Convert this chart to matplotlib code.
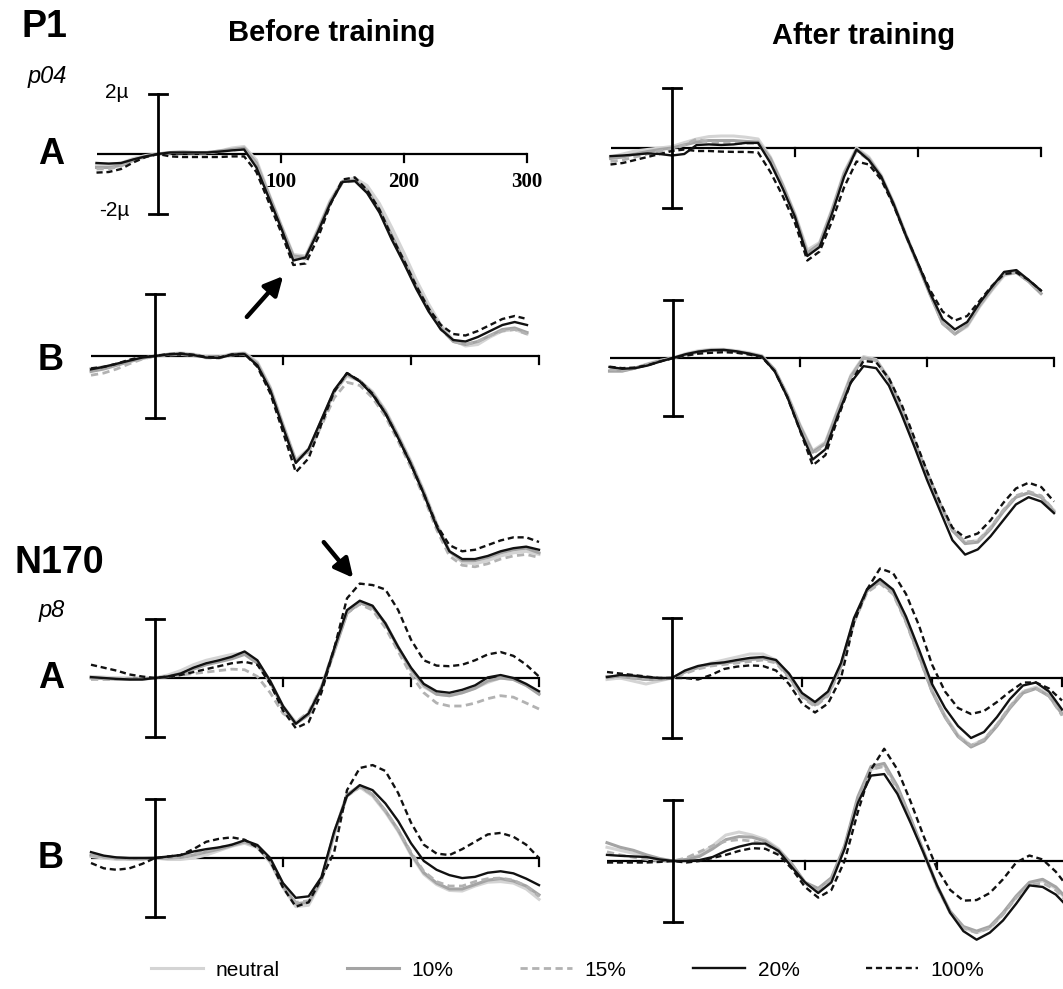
import numpy as np
import matplotlib
matplotlib.use('Agg')
import matplotlib.pyplot as plt
from matplotlib.patches import FancyArrowPatch

# ERP grand averages, P1 (p04) and N170 (p8), before / after training
W, H = 1063, 989
plt.rcParams['font.family'] = ['Liberation Sans', 'DejaVu Sans']

t = np.arange(-50, 301, 10)   # ms
conds = ['neutral', '10%', '15%', '20%', '100%']

# amplitudes in µV, one row per condition (neutral, 10%, 15%, 20%, 100%)
pre_p1_a = [
    [-0.35,-0.35,-0.3,-0.15,-0.05,0,0.05,0.08,0.05,0.05,0.1,0.2,0.25,-0.2,-1.3,-2.35,-3.35,-3.4,-2.5,-1.55,-0.9,-0.8,-1.05,-1.65,-2.45,-3.3,-4.2,-5.0,-5.7,-6.2,-6.4,-6.35,-6.1,-5.9,-5.85,-6.0],
    [-0.45,-0.45,-0.38,-0.2,-0.08,0,0.05,0.06,0.05,0.05,0.1,0.15,0.2,-0.3,-1.35,-2.4,-3.4,-3.45,-2.55,-1.6,-0.92,-0.88,-1.2,-1.85,-2.7,-3.55,-4.4,-5.15,-5.8,-6.25,-6.35,-6.25,-6.05,-5.85,-5.8,-5.95],
    [-0.5,-0.5,-0.4,-0.22,-0.1,0,0.03,0.04,0.03,0.03,0.08,0.12,0.18,-0.35,-1.4,-2.4,-3.45,-3.5,-2.6,-1.65,-0.95,-0.9,-1.25,-1.9,-2.8,-3.6,-4.45,-5.2,-5.85,-6.25,-6.35,-6.25,-6.05,-5.9,-5.85,-6.0],
    [-0.3,-0.32,-0.3,-0.18,-0.08,0,0.05,0.05,0.05,0.05,0.08,0.12,0.15,-0.45,-1.45,-2.45,-3.55,-3.45,-2.6,-1.65,-0.93,-0.9,-1.3,-1.95,-2.85,-3.65,-4.5,-5.25,-5.85,-6.2,-6.25,-6.1,-5.9,-5.7,-5.6,-5.7],
    [-0.62,-0.6,-0.5,-0.28,-0.1,0,-0.08,-0.1,-0.1,-0.1,-0.1,-0.08,-0.08,-0.6,-1.6,-2.6,-3.7,-3.65,-2.8,-1.7,-0.85,-0.78,-1.2,-1.85,-2.75,-3.55,-4.4,-5.15,-5.7,-6.0,-6.05,-5.9,-5.7,-5.5,-5.4,-5.5],
]
pre_p1_b = [
    [-0.4,-0.35,-0.28,-0.18,-0.08,0,0.06,0.1,0.06,-0.02,-0.03,0.07,0.1,-0.2,-1.0,-2.2,-3.35,-3.0,-2.1,-1.15,-0.65,-0.8,-1.15,-1.75,-2.55,-3.4,-4.35,-5.4,-6.3,-6.65,-6.7,-6.6,-6.45,-6.35,-6.3,-6.4],
    [-0.5,-0.42,-0.3,-0.18,-0.07,0,0.05,0.07,0.03,-0.04,-0.05,0.05,0.08,-0.25,-1.05,-2.25,-3.4,-3.05,-2.1,-1.15,-0.6,-0.8,-1.2,-1.8,-2.6,-3.45,-4.4,-5.45,-6.3,-6.6,-6.6,-6.5,-6.35,-6.25,-6.2,-6.35],
    [-0.62,-0.55,-0.42,-0.25,-0.1,0,0.03,0.05,0.01,-0.06,-0.07,0.03,0.05,-0.28,-1.05,-2.25,-3.4,-3.1,-2.25,-1.35,-0.85,-0.95,-1.35,-1.95,-2.75,-3.6,-4.55,-5.6,-6.45,-6.75,-6.8,-6.7,-6.55,-6.45,-6.4,-6.5],
    [-0.43,-0.35,-0.25,-0.15,-0.05,0,0.05,0.07,0.03,-0.05,-0.06,0.04,0.06,-0.3,-1.1,-2.3,-3.45,-3.0,-2.05,-1.1,-0.55,-0.82,-1.25,-1.85,-2.65,-3.5,-4.45,-5.5,-6.3,-6.55,-6.55,-6.45,-6.3,-6.2,-6.15,-6.25],
    [-0.4,-0.35,-0.25,-0.12,-0.03,0,0.06,0.08,0.04,-0.03,-0.05,0.05,0.07,-0.35,-1.2,-2.45,-3.75,-3.3,-2.2,-1.15,-0.55,-0.8,-1.22,-1.85,-2.65,-3.5,-4.45,-5.45,-6.1,-6.3,-6.25,-6.1,-5.95,-5.85,-5.85,-6.0],
]
pre_n170_a = [
    [0.05,0.03,0.0,-0.03,-0.03,0,0.1,0.25,0.45,0.6,0.7,0.8,0.85,0.55,-0.1,-0.95,-1.5,-1.2,-0.3,0.95,2.2,2.55,2.4,1.85,1.0,0.25,-0.3,-0.55,-0.6,-0.5,-0.35,-0.15,0.0,-0.05,-0.25,-0.5],
    [0.0,-0.02,-0.04,-0.05,-0.04,0,0.05,0.15,0.3,0.45,0.55,0.65,0.8,0.5,-0.15,-1.0,-1.55,-1.25,-0.35,0.9,2.2,2.55,2.4,1.85,1.05,0.3,-0.25,-0.55,-0.6,-0.5,-0.35,-0.1,0.0,-0.05,-0.25,-0.55],
    [-0.05,-0.05,-0.05,-0.02,0.0,0,0.05,0.1,0.15,0.2,0.25,0.3,0.28,0.05,-0.5,-1.2,-1.5,-1.15,-0.3,1.0,2.2,2.5,2.3,1.7,0.9,0.1,-0.5,-0.85,-0.95,-0.95,-0.85,-0.7,-0.6,-0.65,-0.85,-1.05],
    [0.03,0.0,-0.03,-0.05,-0.05,0,0.05,0.15,0.35,0.5,0.6,0.72,0.9,0.6,-0.1,-0.95,-1.55,-1.2,-0.35,1.0,2.3,2.62,2.45,1.85,1.05,0.35,-0.2,-0.45,-0.5,-0.4,-0.25,0.02,0.1,0.0,-0.2,-0.45],
    [0.45,0.35,0.25,0.12,0.05,0,0.05,0.1,0.2,0.3,0.4,0.5,0.55,0.45,-0.2,-1.1,-1.7,-1.5,-0.5,1.0,2.7,3.2,3.15,3.0,2.3,1.3,0.6,0.42,0.4,0.45,0.6,0.8,0.88,0.75,0.45,0.05],
]
pre_n170_b = [
    [0.05,0.0,-0.05,-0.05,-0.05,0,-0.05,-0.05,0.0,0.1,0.25,0.4,0.5,0.35,-0.15,-1.0,-1.65,-1.6,-0.8,0.8,2.1,2.4,2.1,1.55,0.9,0.1,-0.55,-0.9,-1.1,-1.12,-0.95,-0.82,-0.8,-0.85,-1.05,-1.4],
    [0.1,0.05,0.0,-0.02,-0.02,0,0.0,0.02,0.1,0.2,0.3,0.42,0.55,0.4,-0.1,-0.95,-1.55,-1.5,-0.75,0.85,2.15,2.45,2.15,1.6,0.95,0.15,-0.5,-0.85,-1.05,-1.05,-0.9,-0.75,-0.7,-0.78,-0.95,-1.25],
    [0.08,0.02,-0.02,-0.03,-0.03,0,0.0,0.02,0.12,0.25,0.35,0.45,0.55,0.4,-0.1,-0.95,-1.5,-1.45,-0.75,0.8,2.1,2.4,2.15,1.6,0.95,0.2,-0.45,-0.8,-0.95,-0.95,-0.8,-0.7,-0.68,-0.75,-0.95,-1.3],
    [0.2,0.08,0.02,0.0,0.0,0,0.05,0.1,0.22,0.3,0.36,0.45,0.6,0.44,0.0,-0.85,-1.35,-1.3,-0.65,0.9,2.1,2.47,2.3,1.85,1.25,0.5,-0.1,-0.4,-0.58,-0.68,-0.64,-0.5,-0.45,-0.52,-0.7,-0.92],
    [-0.17,-0.35,-0.4,-0.35,-0.2,0,0.05,0.1,0.3,0.55,0.65,0.7,0.62,0.35,-0.1,-1.0,-1.65,-1.5,-0.7,0.2,2.3,3.05,3.15,2.95,2.2,1.2,0.45,0.15,0.1,0.3,0.55,0.8,0.85,0.72,0.45,0.0],
]
post_p1_a = [
    [-0.3,-0.2,-0.1,-0.05,0.0,0.05,0.18,0.3,0.38,0.4,0.4,0.36,0.3,-0.3,-1.2,-2.2,-3.4,-3.15,-2.05,-0.8,0.0,-0.3,-0.9,-1.8,-2.85,-3.85,-4.85,-5.8,-6.2,-5.95,-5.3,-4.75,-4.25,-4.15,-4.45,-4.85],
    [-0.35,-0.3,-0.2,-0.12,-0.05,0.0,0.1,0.2,0.25,0.25,0.25,0.22,0.2,-0.35,-1.25,-2.25,-3.5,-3.2,-2.1,-0.85,-0.05,-0.35,-0.95,-1.85,-2.9,-3.9,-4.9,-5.85,-6.2,-5.9,-5.25,-4.7,-4.2,-4.15,-4.45,-4.85],
    [-0.45,-0.4,-0.3,-0.2,-0.1,-0.05,0.1,0.3,0.2,0.15,0.15,0.15,0.15,-0.4,-1.3,-2.3,-3.55,-3.25,-2.15,-0.9,-0.1,-0.4,-1.0,-1.85,-2.9,-3.9,-4.9,-5.85,-6.2,-5.9,-5.25,-4.7,-4.2,-4.15,-4.45,-4.85],
    [-0.27,-0.25,-0.22,-0.18,-0.2,-0.25,-0.2,0.1,0.12,0.1,0.12,0.17,0.17,-0.5,-1.35,-2.3,-3.6,-3.3,-2.2,-0.95,-0.05,-0.4,-0.95,-1.85,-2.9,-3.85,-4.85,-5.7,-6.05,-5.8,-5.17,-4.63,-4.13,-4.07,-4.4,-4.75],
    [-0.55,-0.5,-0.4,-0.3,-0.2,-0.1,-0.05,-0.1,-0.1,-0.12,-0.13,-0.13,-0.15,-0.8,-1.6,-2.5,-3.75,-3.45,-2.45,-1.3,-0.45,-0.55,-1.05,-1.9,-2.9,-3.85,-4.75,-5.45,-5.75,-5.6,-5.1,-4.6,-4.2,-4.15,-4.4,-4.75],
]
post_p1_b = [
    [-0.45,-0.45,-0.35,-0.2,-0.08,0,0.15,0.25,0.3,0.3,0.25,0.18,0.08,-0.4,-1.25,-2.3,-3.2,-2.9,-1.75,-0.6,0.05,-0.05,-0.7,-1.7,-2.85,-3.95,-5.0,-5.9,-6.35,-6.3,-5.85,-5.25,-4.8,-4.65,-4.8,-5.25],
    [-0.45,-0.45,-0.35,-0.22,-0.1,0,0.12,0.22,0.27,0.27,0.22,0.15,0.06,-0.4,-1.3,-2.35,-3.25,-2.95,-1.8,-0.65,0.0,-0.08,-0.75,-1.75,-2.9,-3.95,-5.0,-5.95,-6.4,-6.35,-5.9,-5.3,-4.8,-4.65,-4.8,-5.3],
    [-0.4,-0.42,-0.35,-0.22,-0.1,0,0.1,0.2,0.25,0.25,0.2,0.13,0.05,-0.4,-1.3,-2.4,-3.3,-3.0,-1.85,-0.65,0.0,-0.1,-0.75,-1.75,-2.9,-3.95,-5.0,-5.9,-6.35,-6.3,-5.85,-5.25,-4.75,-4.6,-4.75,-5.25],
    [-0.31,-0.37,-0.35,-0.26,-0.12,0,0.13,0.22,0.27,0.28,0.23,0.15,0.05,-0.45,-1.34,-2.48,-3.5,-3.15,-1.95,-0.85,-0.28,-0.35,-0.95,-1.95,-3.05,-4.2,-5.24,-6.28,-6.78,-6.6,-6.15,-5.6,-5.05,-4.8,-4.95,-5.35],
    [-0.3,-0.35,-0.33,-0.25,-0.12,0,0.08,0.15,0.18,0.2,0.18,0.12,0.03,-0.45,-1.35,-2.5,-3.7,-3.35,-2.05,-0.85,-0.1,-0.15,-0.7,-1.6,-2.75,-3.9,-4.95,-5.85,-6.2,-6.05,-5.6,-5.0,-4.5,-4.3,-4.45,-4.95],
]
post_n170_a = [
    [-0.05,0.0,-0.1,-0.2,-0.1,0,0.2,0.35,0.5,0.6,0.7,0.8,0.8,0.6,0.1,-0.55,-0.85,-0.5,0.45,1.95,2.95,3.25,2.9,1.95,0.8,-0.4,-1.25,-1.9,-2.25,-2.05,-1.55,-0.95,-0.45,-0.3,-0.55,-1.15],
    [0.05,0.05,0.0,-0.05,-0.05,0,0.2,0.35,0.45,0.5,0.55,0.62,0.65,0.55,0.05,-0.6,-0.9,-0.55,0.4,1.9,2.9,3.2,2.85,1.9,0.75,-0.45,-1.3,-1.95,-2.3,-2.1,-1.6,-1.0,-0.5,-0.35,-0.6,-1.2],
    [0.0,0.05,0.0,-0.05,-0.05,0,0.15,0.3,0.4,0.45,0.5,0.55,0.6,0.5,0.0,-0.65,-0.95,-0.6,0.35,1.85,2.85,3.15,2.8,1.85,0.7,-0.45,-1.3,-1.95,-2.25,-2.05,-1.55,-0.95,-0.45,-0.35,-0.6,-1.25],
    [0.03,0.1,0.08,0.03,0.0,0,0.25,0.4,0.48,0.52,0.6,0.67,0.7,0.6,0.15,-0.5,-0.8,-0.45,0.5,2.0,2.95,3.3,2.95,2.05,0.95,-0.2,-1.0,-1.6,-2.0,-1.8,-1.3,-0.7,-0.25,-0.15,-0.45,-1.05],
    [0.2,0.15,0.1,0.05,0.0,0,0.0,-0.05,0.1,0.3,0.38,0.42,0.4,0.25,-0.2,-0.85,-1.15,-0.85,0.0,1.85,2.95,3.65,3.5,2.8,1.75,0.45,-0.45,-1.0,-1.2,-1.1,-0.8,-0.45,-0.15,-0.15,-0.35,-0.75],
]
post_n170_b = [
    [0.45,0.35,0.25,0.15,0.05,0,0.05,0.2,0.5,0.85,0.95,0.85,0.7,0.4,-0.1,-0.7,-0.95,-0.6,0.45,2.0,3.0,3.15,2.4,1.35,0.25,-0.85,-1.7,-2.2,-2.35,-2.2,-1.75,-1.2,-0.75,-0.65,-0.9,-1.35],
    [0.6,0.45,0.35,0.2,0.08,0,0.05,0.15,0.4,0.7,0.8,0.78,0.65,0.35,-0.1,-0.7,-0.9,-0.55,0.5,2.1,3.1,3.2,2.45,1.4,0.3,-0.8,-1.65,-2.15,-2.3,-2.15,-1.7,-1.15,-0.7,-0.6,-0.85,-1.3],
    [0.3,0.2,0.12,0.05,0.0,0,0.1,0.3,0.5,0.65,0.7,0.65,0.55,0.3,-0.15,-0.75,-0.95,-0.6,0.45,2.0,3.0,3.1,2.35,1.35,0.25,-0.85,-1.7,-2.2,-2.35,-2.2,-1.75,-1.2,-0.8,-0.72,-0.95,-1.4],
    [0.2,0.17,0.15,0.13,0.05,0,0.0,0.03,0.13,0.33,0.47,0.57,0.57,0.33,-0.2,-0.7,-1.05,-0.7,0.4,1.9,2.8,2.85,2.2,1.25,0.25,-0.8,-1.7,-2.3,-2.58,-2.35,-1.95,-1.4,-0.8,-0.85,-1.1,-1.55],
    [-0.05,-0.05,-0.05,-0.05,-0.03,0,-0.05,0.0,0.1,0.2,0.33,0.42,0.4,0.2,-0.25,-0.85,-1.2,-0.95,0.0,1.6,3.0,3.68,3.0,1.95,0.8,-0.25,-0.95,-1.3,-1.28,-1.05,-0.6,-0.05,0.18,0.05,-0.35,-0.9],
]

styles = [
    dict(color='#d4d4d4', lw=2.2, ls='-'),
    dict(color='#a4a4a4', lw=2.2, ls='-'),
    dict(color='#b2b2b2', lw=2.0, ls=(0, (2.6, 1.6))),
    dict(color='#111111', lw=1.7, ls='-'),
    dict(color='#111111', lw=1.7, ls=(0, (2.6, 1.6))),
]

fig = plt.figure(figsize=(W / 100, H / 100), dpi=100)

# (data, x of t=0 [px], px per ms, y of 0 µV [px], px per µV)
panels = [
    (pre_p1_a, 158, 1.23, 154, 30.0),
    (pre_p1_b, 155, 1.28, 356, 31.0),
    (pre_n170_a, 155, 1.28, 678, 29.5),
    (pre_n170_b, 155, 1.28, 858, 29.5),
    (post_p1_a, 672, 1.23, 148, 30.0),
    (post_p1_b, 673, 1.27, 358, 29.0),
    (post_n170_a, 672, 1.30, 678, 30.0),
    (post_n170_b, 673, 1.32, 861, 30.5),
]

handles = None
for k, (data, x0, pxms, y0, pxuv) in enumerate(panels):
    tmin, tmax, vmin, vmax = -60, 320, -8, 5
    left = x0 + tmin * pxms
    right = x0 + tmax * pxms
    top = y0 - vmax * pxuv
    bottom = y0 - vmin * pxuv
    ax = fig.add_axes([left / W, 1 - bottom / H, (right - left) / W, (bottom - top) / H])
    ax.set_xlim(tmin, tmax)
    ax.set_ylim(vmin, vmax)
    ax.axis('off')
    ax.patch.set_alpha(0)

    # baseline, time ticks and 2 µV scale bar
    ax.plot([-50, 300], [0, 0], color='k', lw=1.6, solid_capstyle='butt', zorder=1)
    for tx in (100, 200, 300):
        ax.plot([tx, tx], [0, -8 / pxuv], color='k', lw=1.6, zorder=1)
    cap = 9 / pxms
    ax.plot([0, 0], [-2, 2], color='k', lw=2.0, zorder=3)
    ax.plot([-cap, cap], [2, 2], color='k', lw=2.0, zorder=3)
    ax.plot([-cap, cap], [-2, -2], color='k', lw=2.0, zorder=3)

    lines = []
    for row, st, lab in zip(data, styles, conds):
        ln, = ax.plot(t, row, color=st['color'], lw=st['lw'], ls=st['ls'],
                      label=lab, clip_on=False, zorder=2,
                      solid_joinstyle='round', dash_joinstyle='round')
        lines.append(ln)
    if handles is None:
        handles = lines

    if k == 0:
        for tx in (100, 200, 300):
            ax.text(tx, -0.95, str(tx), ha='center', va='center',
                    family='Liberation Serif', weight='bold', fontsize=15)


def label(x, y, s, **kw):
    fig.text(x / W, 1 - y / H, s, ha='center', va='center', **kw)


label(44, 27, 'P1', fontsize=27, weight='bold')
label(59, 563, 'N170', fontsize=27, weight='bold')
label(332, 33, 'Before training', fontsize=21, weight='bold')
label(864, 36, 'After training', fontsize=21, weight='bold')
label(47, 77, 'p04', fontsize=17, style='italic')
label(52, 611, 'p8', fontsize=17, style='italic')
label(117, 93, '2µ', fontsize=15)
label(114, 211, '-2µ', fontsize=15)
for y, s in [(154, 'A'), (360, 'B'), (678, 'A'), (859, 'B')]:
    label(51, y, s, fontsize=26, weight='bold')

# arrows marking the peaks
for (xa, ya), (xb, yb) in [((245, 319), (285, 274)), ((322, 540), (355, 580))]:
    fig.add_artist(FancyArrowPatch((xa / W, 1 - ya / H), (xb / W, 1 - yb / H),
                                   transform=fig.transFigure, arrowstyle='-|>',
                                   mutation_scale=28, lw=3.2, color='k'))

fig.legend(handles, conds, ncol=5, loc='center', bbox_to_anchor=(568 / W, 1 - 970 / H),
           frameon=False, fontsize=15, handlelength=2.5, handletextpad=0.6,
           columnspacing=3.2)

fig.savefig('out.png', dpi=100)
